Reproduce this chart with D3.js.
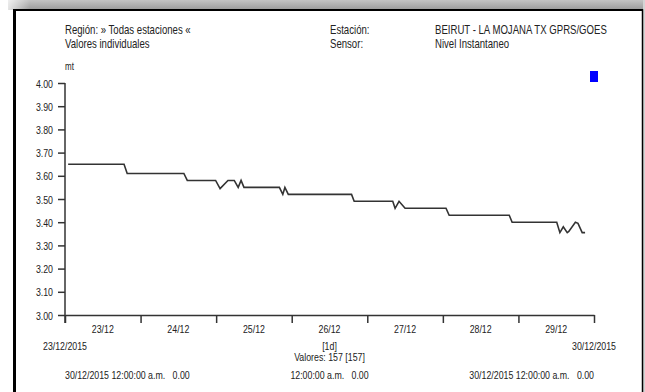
<!DOCTYPE html>
<html>
<head>
<meta charset="utf-8">
<script src="https://cdn.jsdelivr.net/npm/d3@7"></script>
<style>
  html, body { margin: 0; padding: 0; background: #fff; }
  svg { display: block; }
  text { font-family: "Liberation Sans Narrow", "Arial Narrow", "Liberation Sans", Arial, sans-serif; fill: #222; }
</style>
</head>
<body>
<svg id="chart" width="645" height="392"></svg>
<script>
// ---- data ----
const times = [
  "2015-12-23 01:00", "2015-12-23 18:45", "2015-12-23 19:45",
  "2015-12-24 13:45", "2015-12-24 14:50", "2015-12-24 23:50",
  "2015-12-25 01:15", "2015-12-25 03:45", "2015-12-25 05:45",
  "2015-12-25 07:00", "2015-12-25 07:55", "2015-12-25 08:50",
  "2015-12-25 20:05", "2015-12-25 21:10", "2015-12-25 21:50",
  "2015-12-25 22:55", "2015-12-26 19:00", "2015-12-26 19:50",
  "2015-12-27 08:05", "2015-12-27 08:50", "2015-12-27 10:05",
  "2015-12-27 12:00", "2015-12-28 01:00", "2015-12-28 02:00",
  "2015-12-28 21:05", "2015-12-28 22:00", "2015-12-29 12:10",
  "2015-12-29 13:10", "2015-12-29 14:15", "2015-12-29 15:30",
  "2015-12-29 16:00", "2015-12-29 18:05", "2015-12-29 18:55",
  "2015-12-29 20:15", "2015-12-29 21:10"
];
const values = [
  3.65, 3.65, 3.61,
  3.61, 3.58, 3.58,
  3.545, 3.58, 3.58,
  3.55, 3.58, 3.55,
  3.55, 3.52, 3.55,
  3.52, 3.52, 3.49,
  3.49, 3.46, 3.49,
  3.46, 3.46, 3.43,
  3.43, 3.40, 3.40,
  3.355, 3.38, 3.355,
  3.36, 3.40, 3.395,
  3.355, 3.355
];
const yTicks = [3.00, 3.10, 3.20, 3.30, 3.40, 3.50, 3.60, 3.70, 3.80, 3.90, 4.00];
const dayLabels = ["23/12", "24/12", "25/12", "26/12", "27/12", "28/12", "29/12"];
const dayStarts = ["2015-12-23", "2015-12-24", "2015-12-25", "2015-12-26", "2015-12-27", "2015-12-28", "2015-12-29"];
const startLabel = "23/12/2015";
const endLabel = "30/12/2015";
const headerLeft = ["Región: » Todas estaciones «", "Valores individuales"];
const headerMidLabels = ["Estación:", "Sensor:"];
const headerRight = ["BEIRUT - LA MOJANA TX GPRS/GOES", "Nivel Instantaneo"];
const unitLabel = "mt";
const intervalLabel = "[1d]";
const countLabel = "Valores: 157 [157]";
const footer = ["30/12/2015 12:00:00 a.m.   0.00", "12:00:00 a.m.   0.00", "30/12/2015 12:00:00 a.m.   0.00"];

// ---- setup ----
const parseT = d3.timeParse("%Y-%m-%d %H:%M");
const parseD = d3.timeParse("%Y-%m-%d");
const data = times.map((t, i) => ({ t: parseT(t), v: values[i] }));

const svg = d3.select("#chart");
const W = 645, H = 392;
const NARROW = 0.8;

// narrow text helper (condensed look)
function ntext(g, x, y, str, size, anchor) {
  return g.append("text")
    .attr("transform", `translate(${x},${y}) scale(${NARROW},1)`)
    .attr("font-size", size)
    .attr("text-anchor", anchor || "start")
    .attr("xml:space", "preserve")
    .text(str);
}

// background frame with shadow
const defs = svg.append("defs");
const g1 = defs.append("linearGradient").attr("id", "topShade").attr("x1", 0).attr("y1", 0).attr("x2", 0).attr("y2", 1);
g1.append("stop").attr("offset", "0%").attr("stop-color", "#c4c4c4");
g1.append("stop").attr("offset", "100%").attr("stop-color", "#9a9a9a");
const g2 = defs.append("linearGradient").attr("id", "leftFade").attr("x1", 0).attr("y1", 0).attr("x2", 1).attr("y2", 0);
g2.append("stop").attr("offset", "0%").attr("stop-color", "#ffffff").attr("stop-opacity", 1);
g2.append("stop").attr("offset", "100%").attr("stop-color", "#ffffff").attr("stop-opacity", 0);

svg.append("rect").attr("x", 0).attr("y", 0).attr("width", W).attr("height", H).attr("fill", "#fff");
svg.append("rect").attr("x", 8).attr("y", 0).attr("width", W - 8).attr("height", 10).attr("fill", "url(#topShade)");
svg.append("rect").attr("x", 0).attr("y", 0).attr("width", 30).attr("height", 12).attr("fill", "url(#leftFade)");
svg.append("rect").attr("x", 643).attr("y", 0).attr("width", 2).attr("height", H).attr("fill", "#d4d4d4");
// panel
svg.append("rect").attr("x", 14.5).attr("y", 10).attr("width", 628).attr("height", 400)
  .attr("fill", "#fff").attr("stroke", "#000").attr("stroke-width", 1.5);
svg.append("line").attr("x1", 14.5).attr("x2", 14.5).attr("y1", 9).attr("y2", H)
  .attr("stroke", "#000").attr("stroke-width", 3);
svg.append("line").attr("x1", 13).attr("x2", 643).attr("y1", 10).attr("y2", 10)
  .attr("stroke", "#000").attr("stroke-width", 2);

// header
const hdr = svg.append("g");
headerLeft.forEach((s, i) => ntext(hdr, 65, 34 + i * 14, s, 12));
headerMidLabels.forEach((s, i) => ntext(hdr, 330, 34 + i * 14, s, 12));
headerRight.forEach((s, i) => ntext(hdr, 435, 34 + i * 14, s, 12));

// scales
const x = d3.scaleTime().domain([parseD("2015-12-23"), parseD("2015-12-30")]).range([65, 594]);
const y = d3.scaleLinear().domain([3, 4]).range([315, 83]);

// y axis
const yAxis = d3.axisLeft(y).tickValues(yTicks).tickFormat("")
  .tickSize(7).tickSizeOuter(0);
const gy = svg.append("g").attr("transform", "translate(65,0)").call(yAxis);
gy.select(".domain").remove();
gy.selectAll(".tick line").attr("stroke", "#333").attr("stroke-width", 1.5);
gy.selectAll(".tick").each(function(d) {
  ntext(d3.select(this), -12, 4, d3.format(".2f")(d), 11, "end");
});
svg.append("line").attr("x1", 65).attr("x2", 65).attr("y1", y(4)).attr("y2", 323)
  .attr("stroke", "#333").attr("stroke-width", 1.5);

// x axis
const xAxis = d3.axisBottom(x).ticks(d3.timeDay.every(1)).tickFormat("")
  .tickSize(8).tickSizeOuter(0);
const gx = svg.append("g").attr("transform", "translate(0,315)").call(xAxis);
gx.select(".domain").attr("stroke", "#333").attr("stroke-width", 1.5);
gx.selectAll(".tick line").attr("stroke", "#333").attr("stroke-width", 1.5);

const xl = svg.append("g");
dayLabels.forEach((s, i) => {
  const d = d3.timeHour.offset(parseD(dayStarts[i]), 12);
  ntext(xl, x(d), 333, s, 11, "middle");
});
const mid = (x.range()[0] + x.range()[1]) / 2;
ntext(xl, x.range()[0], 350, startLabel, 11, "middle");
ntext(xl, x.range()[1], 350, endLabel, 11, "middle");
ntext(xl, mid, 350, intervalLabel, 11, "middle");
ntext(xl, mid, 361, countLabel, 11, "middle");

const ft = svg.append("g");
ntext(ft, 65, 379, footer[0], 11, "start");
ntext(ft, mid, 379, footer[1], 11, "middle");
ntext(ft, 594, 379, footer[2], 11, "end");

// unit
ntext(svg, 65, 70, unitLabel, 10, "start");

// legend marker
svg.append("rect").attr("x", 590).attr("y", 71).attr("width", 8).attr("height", 11).attr("fill", "#0000ff");

// line
const line = d3.line().x(d => x(d.t)).y(d => y(d.v));
svg.append("path").datum(data).attr("d", line)
  .attr("fill", "none").attr("stroke", "#333").attr("stroke-width", 1.6);
</script>
</body>
</html>
